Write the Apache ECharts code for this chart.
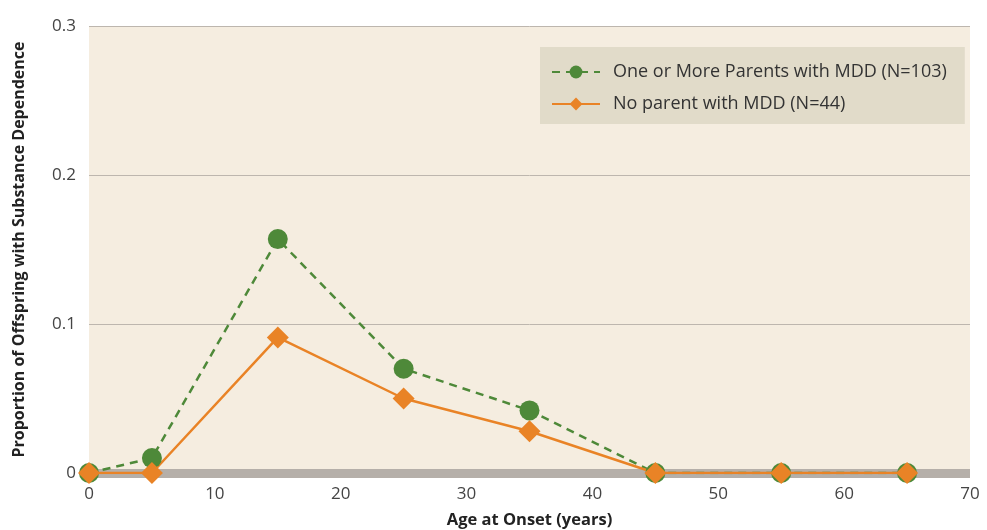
<!DOCTYPE html>
<html>
<head>
<meta charset="utf-8">
<script src="https://cdn.jsdelivr.net/npm/echarts@6/dist/echarts.min.js"></script>
<title>Age at onset</title>
</head>
<body style="margin:0;background:#fff;">
<div id="main" style="width:987px;height:530px;"></div>
<script type="text/javascript">
// ages (years) and proportions
var ages = [0, 5, 15, 25, 35, 45, 55, 65];
var withMDD = [0, 0.010, 0.157, 0.070, 0.042, 0, 0, 0];
var noMDD = [0, 0, 0.091, 0.050, 0.028, 0, 0, 0];
var names = ['One or More Parents with MDD (N=103)', 'No parent with MDD (N=44)'];

function pairs(ys) {
    var out = [];
    for (var i = 0; i < ages.length; i++) out.push([ages[i], ys[i]]);
    return out;
}

var myChart = echarts.init(document.getElementById('main'));
var font = 'Open Sans';
var option = {
    animation: false,
    textStyle: { fontFamily: font },
    grid: {
        left: 89, right: 17, top: 26, bottom: 57,
        outerBoundsMode: 'none', containLabel: false,
        show: true, backgroundColor: '#f5ede0', borderWidth: 0
    },
    legend: {
        orient: 'vertical',
        left: 540, top: 47,
        padding: [16, 18, 11, 11],
        backgroundColor: '#e1dbc9',
        itemWidth: 48, itemHeight: 16, itemGap: 14,
        textStyle: { fontSize: 18, color: '#333', fontFamily: font, padding: [0, 0, 0, 8] },
        data: names
    },
    xAxis: {
        type: 'value', min: 0, max: 70, interval: 10,
        name: 'Age at Onset (years)', nameLocation: 'middle', nameGap: 39,
        nameTextStyle: { fontSize: 16.5, fontWeight: 'bold', color: '#222' },
        axisLine: { show: true, onZero: false, lineStyle: { color: '#b5afa9', width: 9, cap: 'butt' } },
        axisTick: { show: false },
        axisLabel: { fontSize: 17, color: '#444', margin: 13 },
        splitLine: { show: false }
    },
    yAxis: {
        type: 'value', min: 0, max: 0.3, interval: 0.1,
        name: 'Proportion of Offspring with Substance Dependence', nameLocation: 'middle', nameGap: 62,
        nameTextStyle: { fontSize: 16, fontWeight: 'bold', color: '#222' },
        axisLine: { show: false },
        axisTick: { show: false },
        axisLabel: { fontSize: 17, color: '#444', margin: 13 },
        splitLine: { lineStyle: { color: '#bdb6ae', width: 1 } }
    },
    series: [
        {
            name: names[0], type: 'line', data: pairs(withMDD),
            symbol: 'circle', symbolSize: 20,
            itemStyle: { color: '#4e8939' },
            lineStyle: { color: '#4e8939', width: 2.5, type: [8, 6] }
        },
        {
            name: names[1], type: 'line', data: pairs(noMDD),
            symbol: 'diamond', symbolSize: 22,
            itemStyle: { color: '#e98326' },
            lineStyle: { color: '#e98326', width: 2.5 }
        }
    ]
};
myChart.setOption(option);
</script>
</body>
</html>
